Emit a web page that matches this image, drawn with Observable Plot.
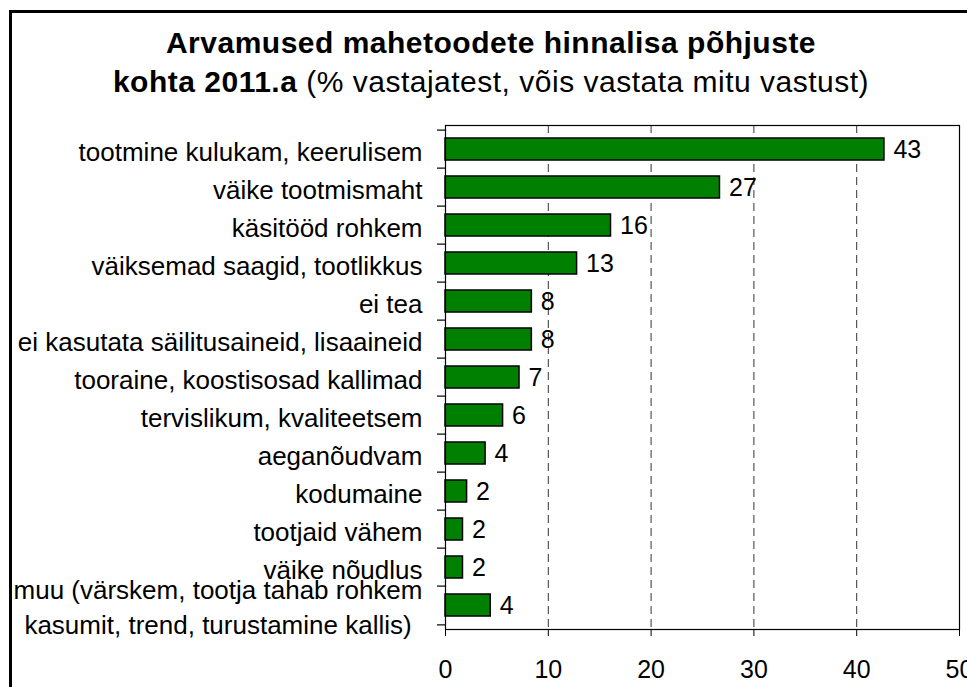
<!DOCTYPE html>
<html>
<head>
<meta charset="utf-8">
<script src="https://cdn.jsdelivr.net/npm/d3@7"></script>
<script src="https://cdn.jsdelivr.net/npm/@observablehq/plot@0.6"></script>
<style>
  html, body { margin: 0; padding: 0; width: 967px; height: 687px; overflow: hidden; background: #fff; }
  body { position: relative; font-family: "Liberation Sans", Arial, sans-serif; }
  #frame { position: absolute; left: 9px; top: 10px; width: 1000px; height: 720px; border: 3px solid #000; box-sizing: border-box; }
  #title { position: absolute; left: 0; top: 23px; width: 982px; text-align: center; font-size: 30px; line-height: 39px; letter-spacing: 0.5px; color: #000; }
  #title b { font-weight: bold; }
  #chart { position: absolute; left: 0; top: 100px; }
</style>
</head>
<body>
<div id="frame"></div>
<div id="title"><b>Arvamused mahetoodete hinnalisa põhjuste</b><br><b>kohta 2011.a</b> (% vastajatest, võis vastata mitu vastust)</div>
<div id="chart"></div>
<script>
const categories = [
  "tootmine kulukam, keerulisem",
  "väike tootmismaht",
  "käsitööd rohkem",
  "väiksemad saagid, tootlikkus",
  "ei tea",
  "ei kasutata säilitusaineid, lisaaineid",
  "tooraine, koostisosad kallimad",
  "tervislikum, kvaliteetsem",
  "aeganõudvam",
  "kodumaine",
  "tootjaid vähem",
  "väike nõudlus",
  "muu (värskem, tootja tahab rohkem\nkasumit, trend, turustamine kallis)"
];
const values = [42.7, 26.7, 16.1, 12.8, 8.4, 8.4, 7.2, 5.6, 3.9, 2.1, 1.7, 1.7, 4.4];
const gridTicks = [10, 20, 30, 40];

const data = categories.map((c, i) => ({category: c, value: values[i], label: String(Math.round(values[i]))}));

const W = 967, H = 587, mTop = 25, mBottom = 58, mLeft = 445, mRight = 8;
const step = (H - mTop - mBottom) / categories.length;

const chart = Plot.plot({
  width: W,
  height: H,
  marginTop: mTop,
  marginBottom: mBottom,
  marginLeft: mLeft,
  marginRight: mRight,
  style: {fontFamily: "'Liberation Sans', Arial, sans-serif", fontSize: "25px", color: "#000", background: "transparent", overflow: "visible"},
  x: {domain: [0, 50], ticks: 5, tickSize: 7, tickPadding: 24, label: null},
  y: {domain: categories, paddingInner: 0.43, paddingOuter: 0.215, axis: null},
  marks: [
    Plot.ruleX(gridTicks, {stroke: "#333", strokeWidth: 1, strokeDasharray: "8,5"}),
    Plot.barX(data, {x: "value", y: "category", fill: "#008000", stroke: "#000", strokeWidth: 1.5}),
    Plot.frame({stroke: "#000", strokeWidth: 1.2}),
    Plot.ruleY(categories, {y: d => d, x1: 0, x2: 0, insetLeft: -8, dy: -step / 2, stroke: "#000", strokeWidth: 1.2}),
    Plot.ruleY([categories[categories.length - 1]], {y: d => d, x1: 0, x2: 0, insetLeft: -8, dy: step / 2, stroke: "#000", strokeWidth: 1.2}),
    Plot.text(categories, {y: d => d, x: 0, dx: -23, text: d => d, textAnchor: "end", fontSize: 26, lineHeight: 1.35, fill: "#000"}),
    Plot.text(data, {x: "value", y: "category", text: "label", dx: 9, textAnchor: "start", fontSize: 25, fill: "#000"})
  ]
});
document.getElementById("chart").appendChild(chart);

// center multi-line category label lines relative to each other (as in the original)
chart.querySelectorAll("text").forEach(t => {
  const spans = t.querySelectorAll("tspan");
  if (spans.length > 1) {
    const widths = Array.from(spans, s => s.getComputedTextLength());
    const maxW = Math.max(...widths);
    t.setAttribute("text-anchor", "middle");
    spans.forEach(s => s.setAttribute("x", -maxW / 2));
  }
});
</script>
</body>
</html>
